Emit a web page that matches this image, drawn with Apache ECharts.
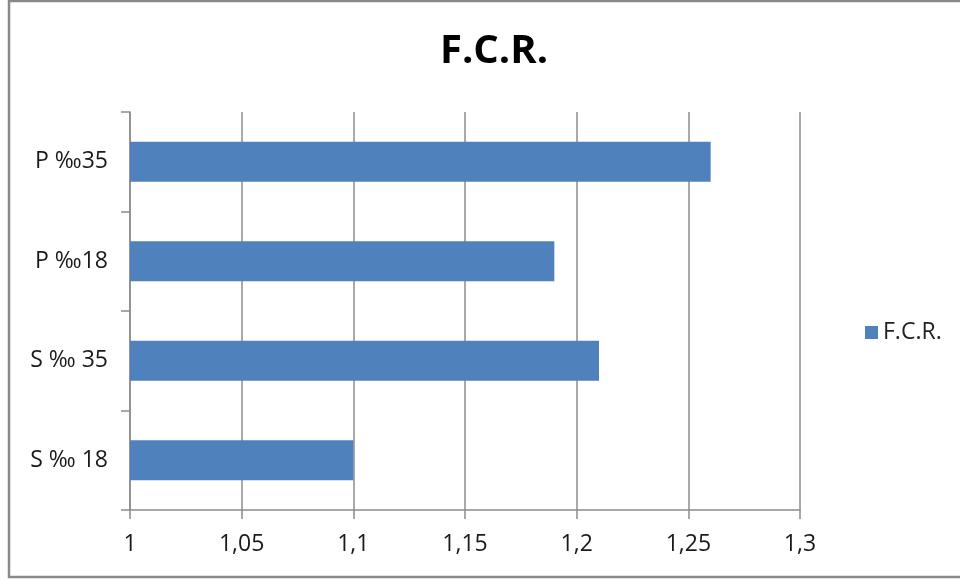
<!DOCTYPE html>
<html>
<head>
<meta charset="utf-8">
<script src="https://cdn.jsdelivr.net/npm/echarts@6/dist/echarts.min.js"></script>
<style>
  html, body { margin: 0; padding: 0; background: #fff; }
  #chart { width: 960px; height: 581px; }
</style>
</head>
<body>
<div id="chart"></div>
<script>
// Feed conversion ratio per treatment
const categories = ['S ‰ 18', 'S ‰ 35', 'P ‰18', 'P ‰35'];
const fcrValues = [1.10, 1.21, 1.19, 1.26];
const seriesName = 'F.C.R.';
const titleText = 'F.C.R.';

const font = 'Open Sans, Liberation Sans, sans-serif';
const chart = echarts.init(document.getElementById('chart'), null, { renderer: 'canvas' });

chart.setOption({
  backgroundColor: '#ffffff',
  animation: false,
  title: {
    text: titleText,
    left: 489,
    textAlign: 'center',
    top: 27,
    textStyle: { fontFamily: font, fontSize: 40, fontWeight: 'bold', color: '#000' }
  },
  legend: {
    data: [seriesName],
    left: 860,
    top: 316,
    orient: 'vertical',
    itemWidth: 13,
    itemHeight: 13,
    itemGap: 6,
    icon: 'rect',
    textStyle: { fontFamily: font, fontSize: 23, color: '#222' }
  },
  grid: { left: 130, right: 160, top: 112, bottom: 71, containLabel: false },
  xAxis: {
    type: 'value',
    min: 1,
    max: 1.3,
    interval: 0.05,
    axisLine: { show: true, lineStyle: { color: '#8c8c8c', width: 1.5 } },
    axisTick: { show: true, length: 9, lineStyle: { color: '#8c8c8c', width: 1.5 } },
    splitLine: { show: true, lineStyle: { color: '#8c8c8c', width: 1.5 } },
    axisLabel: {
      fontFamily: font, fontSize: 23, color: '#1a1a1a', margin: 23,
      formatter: v => String(Math.round(v * 100) / 100).replace('.', ',')
    }
  },
  yAxis: {
    type: 'category',
    data: categories,
    axisLine: { show: true, lineStyle: { color: '#8c8c8c', width: 1.5 } },
    axisTick: { show: true, length: 9, alignWithLabel: false, lineStyle: { color: '#8c8c8c', width: 1.5 } },
    axisLabel: { fontFamily: font, fontSize: 23, color: '#1a1a1a', margin: 22 }
  },
  series: [{
    name: seriesName,
    type: 'bar',
    data: fcrValues,
    barWidth: '40%',
    itemStyle: { color: '#4f81bd' }
  }],
  graphic: [{
    type: 'rect',
    shape: { x: 9, y: 1, width: 1000, height: 576 },
    style: { fill: 'none', stroke: '#8a8a8a', lineWidth: 2.5 },
    silent: true
  }]
});
</script>
</body>
</html>
